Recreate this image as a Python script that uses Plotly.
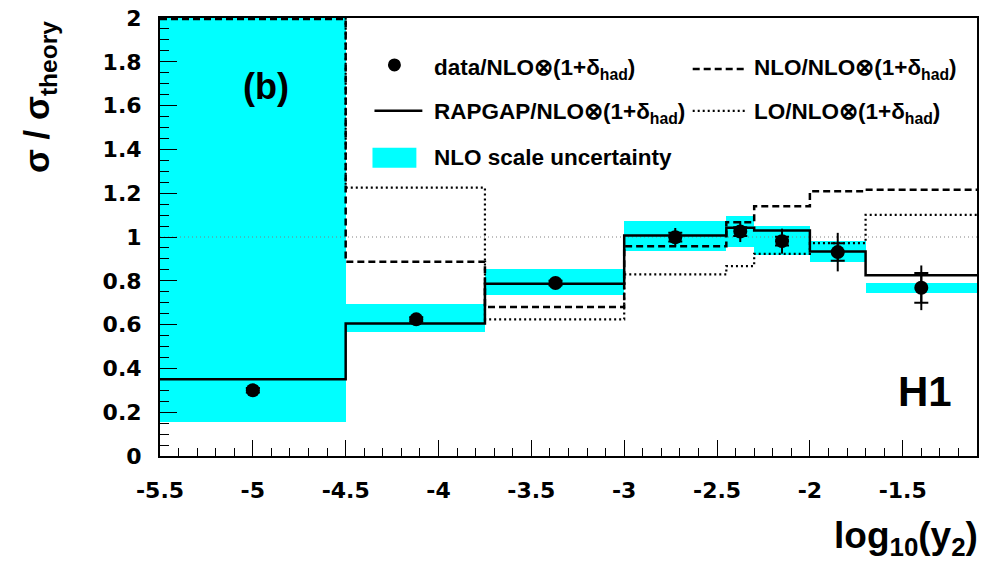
import plotly.graph_objects as go

# ---------------- data ----------------
bin_edges = [-5.5, -4.5, -3.75, -3.0, -2.45, -2.3, -2.0, -1.7, -1.1]
rapgap = [0.35, 0.605, 0.787, 1.007, 1.042, 1.030, 0.934, 0.825]
nlo = [1.995, 0.887, 0.680, 0.958, 1.067, 1.140, 1.209, 1.216]
lo = [2.5, 1.225, 0.624, 0.829, 0.867, 0.923, 0.972, 1.101]
band_low = [0.156, 0.566, 0.733, 0.938, 0.954, 0.916, 0.885, 0.744]
band_high = [2.1, 0.692, 0.852, 1.072, 1.098, 1.052, 0.981, 0.790]

data_x = [-5.0, -4.12, -3.37, -2.725, -2.375, -2.15, -1.85, -1.40]
data_y = [0.30, 0.624, 0.79, 0.999, 1.025, 0.981, 0.931, 0.768]
err_tot = [0.015, 0.015, 0.015, 0.042, 0.048, 0.057, 0.088, 0.102]
err_stat = [0.01, 0.01, 0.01, 0.02, 0.02, 0.02, 0.040, 0.068]

x_tickvals = [-5.5, -5, -4.5, -4, -3.5, -3, -2.5, -2, -1.5]
x_ticktext = ["-5.5", "-5", "-4.5", "-4", "-3.5", "-3", "-2.5", "-2", "-1.5"]
y_tickvals = [0, 0.2, 0.4, 0.6, 0.8, 1.0, 1.2, 1.4, 1.6, 1.8, 2.0]
y_ticktext = ["0", "0.2", "0.4", "0.6", "0.8", "1", "1.2", "1.4", "1.6", "1.8", "2"]

ref_x = [bin_edges[0], bin_edges[-1]]
ref_y = [1.0, 1.0]

# ---------------- figure ----------------
W, H = 985, 568
ML, MR, MT, MB = 160, 6, 17, 112
PW, PH = W - ML - MR, H - MT - MB


def px(x):
    return (x - ML) / PW


def py(y):
    return (H - MB - y) / PH


centers = [(a + b) / 2 for a, b in zip(bin_edges[:-1], bin_edges[1:])]
widths = [b - a for a, b in zip(bin_edges[:-1], bin_edges[1:])]

fig = go.Figure()

fig.add_trace(go.Bar(
    x=centers, width=widths, base=band_low,
    y=[h - l for h, l in zip(band_high, band_low)],
    marker=dict(color="#00FFFF", line=dict(width=0)),
    showlegend=False, hoverinfo="skip"))

fig.add_trace(go.Scatter(x=ref_x, y=ref_y, mode="lines",
                         line=dict(color="#808080", width=1, dash="1px,3px"),
                         showlegend=False))


def step(vals):
    return list(vals) + [vals[-1]]


fig.add_trace(go.Scatter(x=bin_edges, y=step(lo), mode="lines", line_shape="hv",
                         line=dict(color="black", width=2.2, dash="2px,3px"),
                         showlegend=False))
fig.add_trace(go.Scatter(x=bin_edges, y=step(nlo), mode="lines", line_shape="hv",
                         line=dict(color="black", width=2.5, dash="7px,4px"),
                         showlegend=False))
fig.add_trace(go.Scatter(x=bin_edges, y=step(rapgap), mode="lines", line_shape="hv",
                         line=dict(color="black", width=2.5),
                         showlegend=False))

fig.add_trace(go.Scatter(x=data_x, y=data_y, mode="markers",
                         marker=dict(size=1, color="black"),
                         error_y=dict(type="data", array=err_stat, color="black",
                                      thickness=2, width=7),
                         showlegend=False))
fig.add_trace(go.Scatter(x=data_x, y=data_y, mode="markers",
                         marker=dict(size=14, color="black"),
                         error_y=dict(type="data", array=err_tot, color="black",
                                      thickness=2, width=0),
                         showlegend=False))

tickfont = dict(family="DejaVu Sans", size=22, color="black", weight="bold")

fig.update_xaxes(range=[bin_edges[0], bin_edges[-1]],
                 tickvals=x_tickvals, ticktext=x_ticktext,
                 ticks="inside", ticklen=16, tickwidth=1, tickcolor="black",
                 minor=dict(dtick=0.1, tick0=-5.5, ticks="inside", ticklen=8,
                            tickwidth=1, tickcolor="black", showgrid=False),
                 showline=True, linecolor="black", linewidth=2, mirror=True,
                 showgrid=False, zeroline=False, tickfont=tickfont,
                 ticklabelstandoff=14)
fig.update_yaxes(range=[0, 2],
                 tickvals=y_tickvals, ticktext=y_ticktext,
                 ticks="inside", ticklen=17, tickwidth=1, tickcolor="black",
                 minor=dict(dtick=0.05, tick0=0, ticks="inside", ticklen=9,
                            tickwidth=1, tickcolor="black", showgrid=False),
                 showline=True, linecolor="black", linewidth=2, mirror=True,
                 showgrid=False, zeroline=False, tickfont=tickfont,
                 ticklabelstandoff=12)

lfont = dict(family="Liberation Sans", size=22.5, color="black")
ann = []


def text(x, y, s, font, xanchor="left", **kw):
    ann.append(dict(x=px(x), y=py(y), xref="paper", yref="paper", text=s,
                    showarrow=False, xanchor=xanchor, yanchor="middle",
                    font=font, **kw))


had = "(1+δ<sub>had</sub>)"
text(433, 68, "<b>data/NLO⊗" + had + "</b>", lfont)
text(433, 112, "<b>RAPGAP/NLO⊗" + had + "</b>", lfont)
text(433, 157, "<b>NLO scale uncertainty</b>", lfont)
text(753, 68, "<b>NLO/NLO⊗" + had + "</b>", lfont)
text(753, 112, "<b>LO/NLO⊗" + had + "</b>", lfont)

text(266, 86, "<b>(b)</b>", dict(family="Liberation Sans", size=36, color="black"),
     xanchor="center")
text(927, 391, "<b>H1</b>", dict(family="Liberation Sans", size=42, color="black"),
     xanchor="center")
text(982, 538, "<b>log<sub>10</sub>(y<sub>2</sub>)</b>",
     dict(family="Liberation Sans", size=37, color="black"), xanchor="right")
ann.append(dict(x=px(39), y=py(96), xref="paper", yref="paper",
                text="<b>σ / σ<sub>theory</sub></b>", showarrow=False,
                textangle=-90, xanchor="center", yanchor="middle",
                font=dict(family="Liberation Sans", size=35, color="black")))

shapes = [
    dict(type="circle", xref="paper", yref="paper",
         x0=px(388.5), x1=px(401.5), y0=py(57.5), y1=py(70.5),
         fillcolor="black", line=dict(width=0)),
    dict(type="line", xref="paper", yref="paper",
         x0=px(375), x1=px(423), y0=py(110), y1=py(110),
         line=dict(color="black", width=2.5)),
    dict(type="rect", xref="paper", yref="paper",
         x0=px(373), x1=px(417), y0=py(147), y1=py(167),
         fillcolor="#00FFFF", line=dict(width=0)),
    dict(type="line", xref="paper", yref="paper",
         x0=px(694), x1=px(749), y0=py(68), y1=py(68),
         line=dict(color="black", width=2.5, dash="7px,4px")),
    dict(type="line", xref="paper", yref="paper",
         x0=px(694), x1=px(749), y0=py(110), y1=py(110),
         line=dict(color="black", width=2.2, dash="2px,3px")),
]

fig.update_layout(width=W, height=H,
                  margin=dict(l=ML, r=MR, t=MT, b=MB),
                  paper_bgcolor="white", plot_bgcolor="white",
                  showlegend=False, bargap=0,
                  annotations=ann, shapes=shapes)

fig.write_html("out.html")
